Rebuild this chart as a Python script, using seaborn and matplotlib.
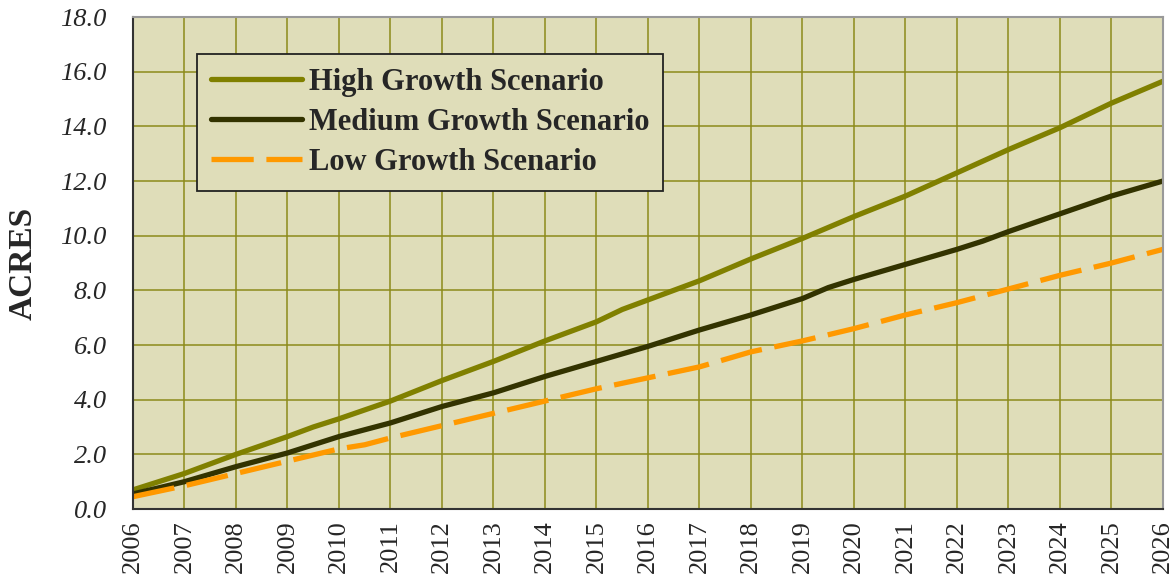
import matplotlib
matplotlib.use("Agg")
import matplotlib.pyplot as plt
import numpy as np
import pandas as pd
import seaborn as sns

# ---------------------------------------------------------------------------
# 数据
# ---------------------------------------------------------------------------
HIGH_YEARS = [2006, 2007, 2008, 2009, 2009.5, 2010, 2011, 2012, 2013, 2014, 2015,
              2015.5, 2016, 2017, 2018, 2019, 2020, 2021, 2022, 2023, 2024, 2025, 2026]
HIGH_ACRES = [0.7, 1.3, 2.0, 2.65, 3.0, 3.3, 3.95, 4.7, 5.4, 6.15, 6.85,
              7.3, 7.65, 8.35, 9.15, 9.9, 10.7, 11.45, 12.3, 13.15, 13.95, 14.85, 15.65]

MED_YEARS = [2006, 2007, 2008, 2009, 2010, 2011, 2012, 2013, 2014, 2015, 2016,
             2017, 2018, 2019, 2019.5, 2020, 2021, 2022, 2022.5, 2023, 2024, 2025, 2026]
MED_ACRES = [0.55, 1.0, 1.55, 2.05, 2.65, 3.15, 3.75, 4.25, 4.85, 5.4, 5.95,
             6.55, 7.1, 7.7, 8.1, 8.4, 8.95, 9.5, 9.8, 10.15, 10.8, 11.45, 12.0]

LOW_YEARS = [2006, 2007, 2008, 2009, 2010, 2010.5, 2011, 2012, 2013, 2014, 2015,
             2016, 2017, 2018, 2019, 2020, 2021, 2022, 2023, 2024, 2025, 2026]
LOW_ACRES = [0.45, 0.85, 1.3, 1.75, 2.2, 2.35, 2.6, 3.05, 3.5, 3.95, 4.4,
             4.8, 5.2, 5.75, 6.15, 6.6, 7.1, 7.55, 8.05, 8.55, 9.0, 9.5]

SERIES = ["High Growth Scenario", "Medium Growth Scenario", "Low Growth Scenario"]
YEAR_TICKS = list(range(2006, 2027))
ACRE_TICKS = [0, 2, 4, 6, 8, 10, 12, 14, 16, 18]

BG = "#DFDDB9"
GRID = "#8C8A1A"
COLORS = {"High Growth Scenario": "#808000",
          "Medium Growth Scenario": "#333300",
          "Low Growth Scenario": "#FF9900"}

sns.set_theme(style="white")
plt.rcParams["font.family"] = ["Liberation Serif", "DejaVu Serif"]

fig = plt.figure(figsize=(11.71, 5.77), dpi=100)
ax = fig.add_axes([133 / 1171, 1 - 509 / 577, 1030 / 1171, 492 / 577])
ax.set_facecolor(BG)

for name, xs, ys in zip(SERIES, [HIGH_YEARS, MED_YEARS, LOW_YEARS],
                        [HIGH_ACRES, MED_ACRES, LOW_ACRES]):
    df = pd.DataFrame({"Year": xs, "Acres": ys})
    kw = dict(color=COLORS[name], linewidth=3.8, label=name, ax=ax,
              solid_capstyle="round")
    if name.startswith("Low"):
        kw.update(linestyle=(0, (8, 2.4)), dash_capstyle="butt")
    sns.lineplot(data=df, x="Year", y="Acres", **kw)

ax.set_xlim(2006, 2026)
ax.set_ylim(0, 18)
ax.set_xticks(YEAR_TICKS)
ax.set_xticklabels([str(y) for y in YEAR_TICKS], rotation=90, fontsize=19)
ax.set_yticks(ACRE_TICKS)
ax.set_yticklabels([f"{v:.1f}" for v in ACRE_TICKS], fontsize=19, fontstyle="italic")
ax.grid(True, color=GRID, linewidth=1.1)
ax.set_axisbelow(True)
ax.tick_params(axis="x", direction="out", length=7, width=1.3, color="#333333", pad=1)
ax.tick_params(axis="y", direction="out", length=7, width=1.3, color="#333333", pad=12)
ax.set_xlabel("")
ax.set_ylabel("ACRES", fontsize=24, fontweight="bold")
ax.yaxis.set_label_coords(-0.092, 0.5)

for side in ["left", "bottom"]:
    ax.spines[side].set_color("#333333")
    ax.spines[side].set_linewidth(1.5)
for side in ["top", "right"]:
    ax.spines[side].set_color("#999999")
    ax.spines[side].set_linewidth(1.5)

leg = ax.legend(loc="upper left", bbox_to_anchor=((197 - 133) / 1030, (509 - 54) / 492),
                borderaxespad=0, frameon=True, fancybox=False, handlelength=3.0,
                handletextpad=0.2, labelspacing=0.36, borderpad=0.45,
                prop={"size": 22, "weight": "bold"})
leg.get_frame().set_facecolor(BG)
leg.get_frame().set_edgecolor("#222222")
leg.get_frame().set_linewidth(1.3)
leg.get_frame().set_alpha(1)

fig.savefig("out.png", dpi=100)
